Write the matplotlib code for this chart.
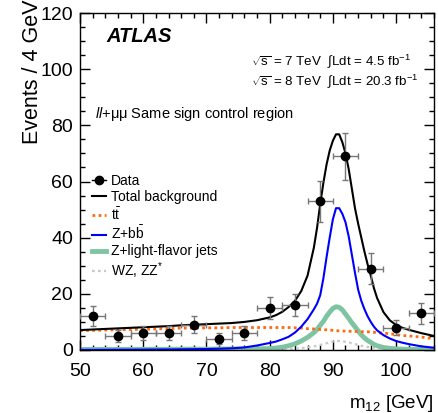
import matplotlib
matplotlib.use("Agg")
import matplotlib.pyplot as plt
from matplotlib.lines import Line2D
from matplotlib.ticker import MultipleLocator
import numpy as np

plt.rcParams['font.family'] = ['Liberation Sans', 'DejaVu Sans']
plt.rcParams['mathtext.fontset'] = 'custom'
plt.rcParams['mathtext.rm'] = 'Liberation Sans'
plt.rcParams['mathtext.it'] = 'Liberation Sans:italic'
plt.rcParams['mathtext.bf'] = 'Liberation Sans:bold'

# data points (4 GeV bins)
m_data = [52, 56, 60, 64, 68, 72, 76, 80, 84, 88, 92, 96, 100, 104]
n_data = [12, 5, 6, 6, 9, 4, 6, 15, 16, 53, 69, 29, 8, 13]
err_data = [3.5, 2.2, 2.4, 2.4, 3.0, 2.0, 2.4, 3.9, 4.0, 7.3, 8.3, 5.4, 2.8, 3.6]

# curve sampling points
m_c = [50, 52, 54, 56, 58, 60, 62, 64, 66, 68, 70, 72, 74, 76, 78, 80, 81, 82, 83, 84, 85, 86,
       87, 87.5, 88, 88.5, 89, 89.5, 90, 90.5, 91, 91.5, 92, 92.5, 93, 93.5, 94, 94.5, 95,
       95.5, 96, 96.5, 97, 98, 99, 100, 101, 102, 104, 106]

total = [7.1, 7.3, 7.5, 7.7, 7.9, 8.1, 8.3, 8.5, 8.8, 9.0, 9.2, 9.4, 9.6, 10.0, 10.6, 11.6, 12.4,
         13.6, 15.3, 17.5, 21.0, 26.5, 36.5, 43.5, 52.0, 59.5, 66.0, 71.0, 74.5, 76.8, 76.8,
         74.0, 70.0, 64.5, 57.5, 50.5, 45.0, 40.0, 35.0, 30.5, 26.5, 22.0, 18.5, 13.5, 10.6,
         8.9, 7.9, 7.2, 6.0, 5.0]

ttbar = [6.9, 7.0, 7.1, 7.2, 7.3, 7.4, 7.5, 7.6, 7.8, 7.8, 7.9, 7.9, 8.0, 8.0, 8.0, 8.0, 8.0,
         8.0, 8.0, 7.9, 7.8, 7.6, 7.5, 7.4, 7.3, 7.2, 7.2, 7.1, 7.0, 6.9, 6.8, 6.8, 6.7, 6.7,
         6.6, 6.6, 6.6, 6.5, 6.5, 6.5, 6.4, 6.3, 6.2, 6.0, 5.8, 5.5, 5.2, 5.0, 4.6, 4.0]

zbb = [0.05, 0.05, 0.08, 0.1, 0.12, 0.15, 0.18, 0.2, 0.25, 0.3, 0.35, 0.45, 0.6, 0.9, 1.6, 2.5,
       3.0, 3.8, 4.7, 6.2, 8.3, 11.0, 14.5, 16.5, 19.5, 25.5, 33.0, 40.0, 46.5, 50.5, 50.5,
       48.5, 45.5, 40.5, 34.0, 27.5, 21.5, 17.5, 14.5, 12.0, 10.0, 8.3, 7.0, 5.3, 4.1, 3.2,
       2.6, 2.1, 1.3, 0.8]

zlight = [0.2, 0.2, 0.2, 0.2, 0.2, 0.25, 0.25, 0.25, 0.3, 0.3, 0.3, 0.35, 0.35, 0.4, 0.45, 0.5,
          0.7, 1.0, 1.5, 2.2, 3.2, 4.5, 6.2, 7.3, 8.8, 10.2, 12.0, 13.5, 14.8, 15.4, 15.2,
          14.3, 12.8, 11.3, 9.7, 8.3, 6.8, 5.4, 4.3, 3.4, 2.7, 2.0, 1.5, 0.9, 0.6, 0.4, 0.3,
          0.25, 0.2, 0.15]

wzzz = [0.05, 0.05, 0.05, 0.05, 0.05, 0.05, 0.05, 0.05, 0.05, 0.05, 0.05, 0.05, 0.05, 0.05, 0.1,
        0.15, 0.2, 0.25, 0.35, 0.5, 0.7, 0.9, 1.3, 1.5, 1.8, 2.1, 2.4, 2.7, 3.0, 3.2, 3.2,
        3.1, 2.9, 2.7, 2.4, 2.1, 1.8, 1.5, 1.3, 1.1, 0.9, 0.75, 0.6, 0.45, 0.35, 0.3, 0.25,
        0.2, 0.2, 0.15]

fig = plt.figure(figsize=(4.39, 4.13), dpi=100)
ax = fig.add_axes([80/439, 63/413, 354/439, 337/413])

ax.plot(m_c, wzzz, color='#c8c8c8', lw=1.6, ls=(0, (1.2, 1.5)))
ax.plot(m_c, zlight, color='#7fc4a2', lw=3.5)
ax.plot(m_c, ttbar, color='#ff6a10', lw=2.0, ls=(0, (1.0, 1.2)))
ax.plot(m_c, zbb, color='#0000ff', lw=1.5)
ax.plot(m_c, total, color='black', lw=1.5)
ax.errorbar(m_data, n_data, yerr=err_data, xerr=2, fmt='o', color='black', ms=6,
            ecolor='#777777', elinewidth=1.0, capsize=2, capthick=1.0, zorder=5)

ax.set_xlim(50, 106)
ax.set_ylim(0, 120)
ax.xaxis.set_major_locator(MultipleLocator(10))
ax.xaxis.set_minor_locator(MultipleLocator(2))
ax.yaxis.set_major_locator(MultipleLocator(20))
ax.yaxis.set_minor_locator(MultipleLocator(5))
ax.tick_params(which='both', direction='in', top=True, right=True, width=1.0, labelsize=14)
ax.tick_params(which='major', length=7)
ax.tick_params(which='minor', length=3.5)
ax.tick_params(axis='x', pad=9)
ax.tick_params(axis='y', pad=5)
for s in ax.spines.values():
    s.set_linewidth(1.0)

ax.set_xlabel(r'm$_{12}$ [GeV]', fontsize=13.5, loc='right')
ax.xaxis.set_label_coords(1.0, -0.128)
ax.set_ylabel('Events / 4 GeV', fontsize=15.5, loc='top')
ax.yaxis.set_label_coords(-0.105, 1.04)

ax.text(0.076, 0.915, 'ATLAS', transform=ax.transAxes, fontsize=14.5,
        fontweight='bold', fontstyle='italic', va='baseline')
ax.text(0.484, 0.846, r'$\sqrt{\mathrm{s}}$ = 7 TeV  $\int$Ldt = 4.5 fb$^{-1}$',
        transform=ax.transAxes, fontsize=9.6, va='baseline')
ax.text(0.484, 0.786, r'$\sqrt{\mathrm{s}}$ = 8 TeV  $\int$Ldt = 20.3 fb$^{-1}$',
        transform=ax.transAxes, fontsize=9.6, va='baseline')
ax.text(0.042, 0.6875, r'$\it{ll}$+μμ Same sign control region', transform=ax.transAxes,
        fontsize=10.5, va='baseline')

handles = [
    Line2D([], [], color='black', marker='o', ms=6, lw=1.0),
    Line2D([], [], color='black', lw=1.5),
    Line2D([], [], color='#ff6a10', lw=2.0, ls=(0, (1.0, 1.2))),
    Line2D([], [], color='#0000ff', lw=1.5),
    Line2D([], [], color='#7fc4a2', lw=3.5),
    Line2D([], [], color='#c8c8c8', lw=1.6, ls=(0, (1.2, 1.5))),
]
labels = ['Data', 'Total background', r'$\mathrm{t\bar{t}}$', r'Z+b$\mathrm{\bar{b}}$',
          'Z+light-flavor jets', r'WZ, ZZ$^{*}$']
ax.legend(handles, labels, loc='upper left', bbox_to_anchor=(0.035, 0.523), frameon=False,
          fontsize=10, handlelength=1.0, handletextpad=0.35, labelspacing=0.15,
          borderpad=0, borderaxespad=0)

fig.savefig('out.png', dpi=100)
